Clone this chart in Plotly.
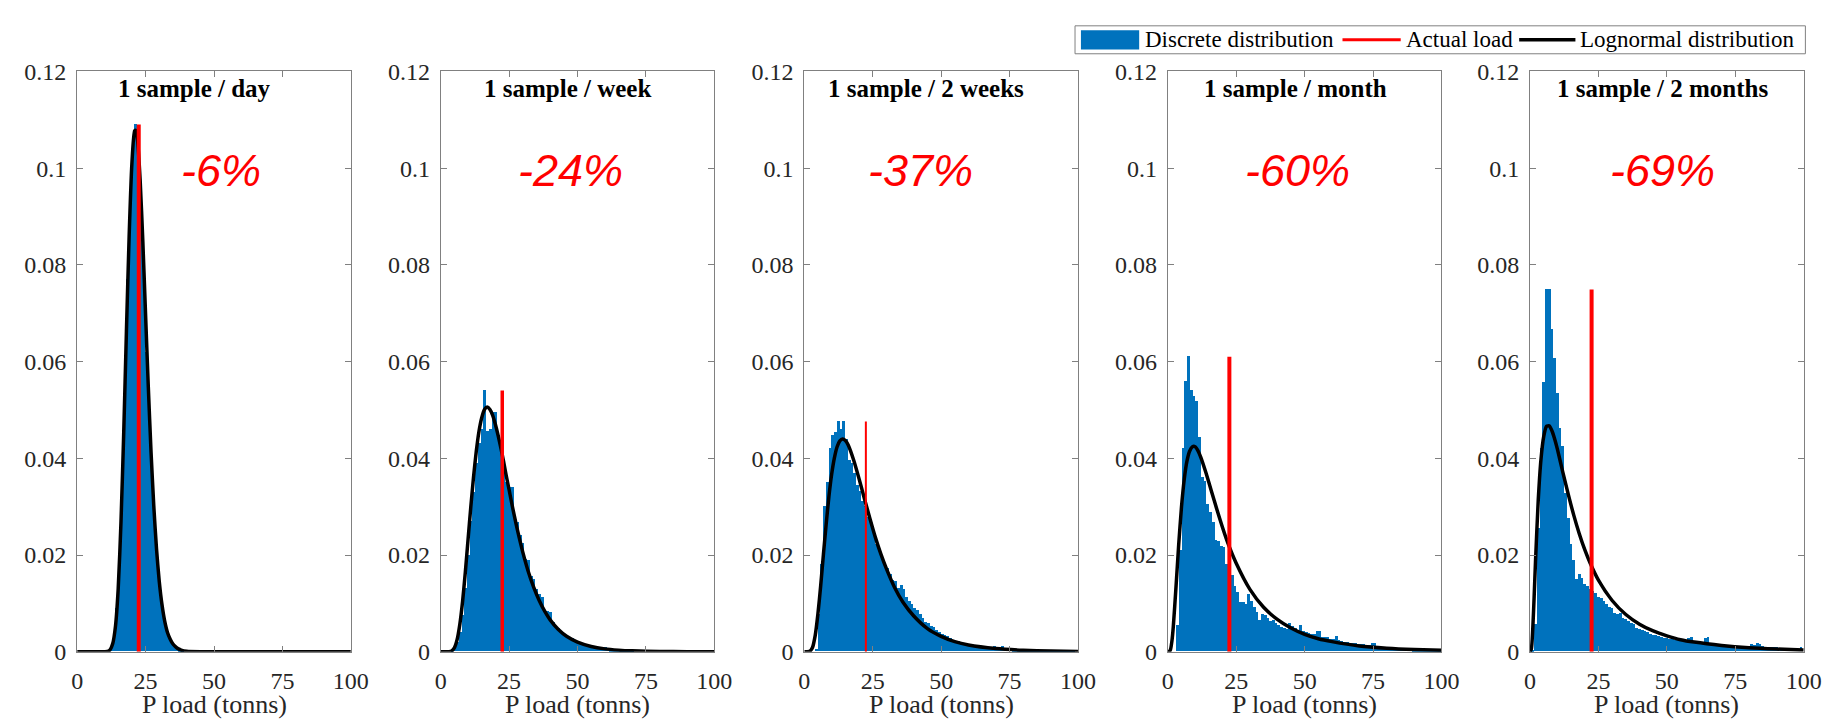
import plotly.graph_objects as go

W, H = 1845, 723

# ---------------- data ----------------
panel_titles = ["1 sample / day", "1 sample / week", "1 sample / 2 weeks",
                "1 sample / month", "1 sample / 2 months"]
change_labels = ["-6%", "-24%", "-37%", "-60%", "-69%"]
change_label_x = [52.5, 47.5, 42.5, 47.5, 48.5]
change_label_y = 0.0996
title_x = [43, 46.5, 44.5, 46.5, 48.5]
title_y = 0.1165
actual_load = 22.5

x_ticks = [0, 25, 50, 75, 100]
y_ticks = [0, 0.02, 0.04, 0.06, 0.08, 0.1, 0.12]
y_tick_labels = ["0", "0.02", "0.04", "0.06", "0.08", "0.1", "0.12"]

# histograms: left edge of first bin, bin width 1 tonne
hist_start = [12, 3.5, 4, 3, 0.5]
hist_day = [0.001, 0.003, 0.009, 0.019, 0.036, 0.056, 0.077, 0.094, 0.105, 0.109,
            0.103, 0.092, 0.078, 0.062, 0.048, 0.036, 0.0255, 0.018, 0.012, 0.008,
            0.005, 0.0033, 0.002, 0.0013, 0.0008, 0.0004, 0.0002]
hist_week = [0.0003, 0.001, 0.002, 0.004, 0.0075, 0.013, 0.020, 0.027, 0.033, 0.039,
             0.043, 0.046, 0.054, 0.0455, 0.046, 0.0495, 0.0495, 0.0447, 0.0430, 0.0390,
             0.0350, 0.0340, 0.0340, 0.0280, 0.0268, 0.0240, 0.0225, 0.0190, 0.0188, 0.0155,
             0.0150, 0.0128, 0.0118, 0.0112, 0.0086, 0.0083, 0.0082, 0.0060, 0.0052, 0.0049,
             0.0040, 0.0034, 0.0031, 0.0029, 0.0027, 0.0022, 0.0018, 0.0016, 0.0015, 0.0013,
             0.0011, 0.0010, 0.0009, 0.0008, 0.0007, 0.0007, 0.0009, 0.0005, 0.0004, 0.0003,
             0.0003, 0.0002, 0.0002, 0.0002, 0.0001, 0.0001, 0.0001]
hist_2weeks = [0.0005, 0.0077, 0.018, 0.030, 0.035, 0.042, 0.0447, 0.0453, 0.0476, 0.046,
               0.0476, 0.0440, 0.0395, 0.0390, 0.0369, 0.0345, 0.0332, 0.0310, 0.0300, 0.0278,
               0.0268, 0.0250, 0.0222, 0.0210, 0.0195, 0.0180, 0.0172, 0.0160, 0.0148, 0.0146,
               0.0132, 0.0137, 0.0128, 0.0112, 0.0105, 0.0098, 0.0090, 0.0085, 0.0078, 0.0068,
               0.0060, 0.0058, 0.0053, 0.0050, 0.0045, 0.0040, 0.0036, 0.0033, 0.0032, 0.0028,
               0.0024, 0.0022, 0.0021, 0.0019, 0.0017, 0.0015, 0.0014, 0.0013, 0.0012, 0.0011,
               0.0010, 0.0009, 0.0009, 0.0008, 0.0008, 0.0012, 0.0007, 0.0006, 0.0011, 0.0006,
               0.0005, 0.0005, 0.0004, 0.0004, 0.0004, 0.0003, 0.0003, 0.0003, 0.0002, 0.0002,
               0.0002, 0.0002, 0.0002, 0.0002, 0.0002, 0.0002, 0.0001, 0.0001, 0.0001, 0.0001,
               0.0001, 0.0001, 0.0001, 0.0001, 0.0001]
hist_month = [0.0055, 0.021, 0.042, 0.056, 0.061, 0.054, 0.0527, 0.0517, 0.0444, 0.036,
              0.0353, 0.0304, 0.0288, 0.0268, 0.0231, 0.0228, 0.0218, 0.0215, 0.0181, 0.0161,
              0.0158, 0.0135, 0.0122, 0.0102, 0.0102, 0.0098, 0.0118, 0.0105, 0.0092, 0.0082,
              0.0065, 0.0078, 0.0075, 0.0068, 0.0062, 0.0065, 0.0058, 0.0055, 0.0050, 0.0048,
              0.0046, 0.0058, 0.0052, 0.0048, 0.0045, 0.0055, 0.0042, 0.0040, 0.0038, 0.0036,
              0.0035, 0.0042, 0.0042, 0.0030, 0.0029, 0.0030, 0.0026, 0.0025, 0.0032, 0.0023,
              0.0021, 0.0020, 0.0019, 0.0018, 0.0017, 0.0017, 0.0016, 0.0016, 0.0015, 0.0014,
              0.0013, 0.0017, 0.0017, 0.0011, 0.0010, 0.0009, 0.0009, 0.0008, 0.0007, 0.0007,
              0.0006, 0.0006, 0.0005, 0.0005, 0.0005, 0.0005, 0.0004, 0.0004, 0.0004, 0.0004,
              0.0003, 0.0003, 0.0003, 0.0003, 0.0003, 0.0003, 0.0003]
hist_2months = [0.0003, 0.0057, 0.0256, 0.0420, 0.0557, 0.0749, 0.0749, 0.0666, 0.0607, 0.0534,
                0.0461, 0.0424, 0.0328, 0.0275, 0.0222, 0.0189, 0.0150, 0.0160, 0.0152, 0.0140,
                0.0135, 0.0128, 0.0125, 0.0120, 0.0112, 0.0110, 0.0105, 0.0098, 0.0092, 0.0090,
                0.0080, 0.0078, 0.0080, 0.0070, 0.0066, 0.0062, 0.0058, 0.0056, 0.0048, 0.0046,
                0.0044, 0.0042, 0.0040, 0.0036, 0.0034, 0.0033, 0.0032, 0.0030, 0.0028, 0.0027,
                0.0026, 0.0025, 0.0024, 0.0024, 0.0023, 0.0022, 0.0022, 0.0028, 0.0029, 0.0021,
                0.0020, 0.0019, 0.0018, 0.0028, 0.0029, 0.0017, 0.0016, 0.0016, 0.0015, 0.0015,
                0.0014, 0.0014, 0.0013, 0.0013, 0.0012, 0.0012, 0.0012, 0.0011, 0.0011, 0.0012,
                0.0016, 0.0013, 0.0017, 0.0016, 0.0012, 0.0010, 0.0009, 0.0009, 0.0008, 0.0008,
                0.0007, 0.0007, 0.0007, 0.0006, 0.0006, 0.0006, 0.0005, 0.0005, 0.0008]
hists = [hist_day, hist_week, hist_2weeks, hist_month, hist_2months]

# fitted lognormal curves
curve_day_x = [0, 10, 11, 12, 13, 14, 15, 16, 17, 18, 19, 20, 21, 21.5, 22, 23, 24, 25, 26,
               27, 28, 29, 30, 31, 32, 33, 34, 35, 36, 37, 38, 40, 45, 100]
curve_day_y = [0, 0, 0.00005, 0.0004, 0.0017, 0.0053, 0.0131, 0.0267, 0.0451, 0.0663,
               0.0861, 0.1010, 0.1077, 0.1078, 0.1061, 0.0977, 0.0847, 0.0696, 0.0547, 0.0412,
               0.0301, 0.0212, 0.0145, 0.0097, 0.0063, 0.0040, 0.0026, 0.0016, 0.0010, 0.0006,
               0.00035, 0.0001, 0, 0]
curve_week_x = [0, 3, 4, 5, 6, 7, 8, 9, 10, 11, 12, 13, 14, 15, 16, 17, 18, 19, 20, 21, 22,
                23, 24, 25, 26, 27, 28, 30, 32, 34, 36, 38, 40, 43, 46, 50, 55, 60, 65, 70,
                80, 90, 100]
curve_week_y = [0, 0.00001, 0.00015, 0.0008, 0.0025, 0.0057, 0.0104, 0.0164, 0.0232, 0.0299,
                0.0361, 0.0414, 0.0456, 0.0484, 0.0501, 0.0506, 0.0501, 0.0489, 0.0470, 0.0447,
                0.0421, 0.0393, 0.0363, 0.0335, 0.0306, 0.0279, 0.0253, 0.0206, 0.0166, 0.0133,
                0.0106, 0.0084, 0.0066, 0.0046, 0.0032, 0.0020, 0.0011, 0.0006, 0.00034, 0.00019,
                0.00006, 0.00002, 0]
curve_2weeks_x = [0, 1, 2, 3, 4, 5, 6, 7, 8, 9, 10, 11, 12, 13, 14, 15, 16, 18, 20, 22, 24,
                  26, 28, 30, 33, 36, 40, 45, 50, 55, 60, 70, 80, 90, 100]
curve_2weeks_y = [0, 0, 0.0001, 0.0009, 0.0034, 0.0079, 0.0137, 0.0202, 0.0264, 0.0321,
                  0.0367, 0.0401, 0.0424, 0.0436, 0.0440, 0.0437, 0.0428, 0.0397, 0.0358, 0.0316,
                  0.0275, 0.0236, 0.0202, 0.0172, 0.0133, 0.0103, 0.0074, 0.0048, 0.0032, 0.0021,
                  0.0014, 0.00066, 0.00032, 0.00016, 0.00008]
curve_month_x = [0, 0.5, 1, 1.5, 2, 3, 4, 5, 6, 7, 8, 9, 10, 11, 12, 14, 16, 18, 20, 22, 25,
                 30, 35, 40, 45, 50, 55, 60, 70, 80, 90, 100]
curve_month_y = [0, 0.00002, 0.0005, 0.0022, 0.0051, 0.0134, 0.0223, 0.0299, 0.0356, 0.0394,
                 0.0415, 0.0424, 0.0424, 0.0416, 0.0403, 0.0369, 0.0331, 0.0293, 0.0257, 0.0224,
                 0.0183, 0.0129, 0.0092, 0.0067, 0.0049, 0.0036, 0.0027, 0.0021, 0.0012, 0.00074,
                 0.00047, 0.0003]
curve_2months_x = [0, 0.5, 1, 1.5, 2, 3, 4, 5, 6, 7, 8, 9, 10, 12, 14, 16, 18, 20, 22, 25,
                   30, 35, 40, 45, 50, 55, 60, 70, 80, 90, 100]
curve_2months_y = [0, 0.0006, 0.0047, 0.0113, 0.0186, 0.0313, 0.0398, 0.0445, 0.0466, 0.0467,
                   0.0457, 0.0440, 0.0419, 0.0371, 0.0325, 0.0282, 0.0244, 0.0211, 0.0183, 0.0148,
                   0.0106, 0.0077, 0.0057, 0.0043, 0.0033, 0.0025, 0.0020, 0.0013, 0.00083,
                   0.00056, 0.00039]
curves_x = [curve_day_x, curve_week_x, curve_2weeks_x, curve_month_x, curve_2months_x]
curves_y = [curve_day_y, curve_week_y, curve_2weeks_y, curve_month_y, curve_2months_y]

legend_labels = ["Discrete distribution", "Actual load", "Lognormal distribution"]
x_label = "P load (tonns)"

# ---------------- style ----------------
BLUE = "#0072BD"
RED = "#FF0000"
BLACK = "#000000"
AXIS = "#808080"
TXT = "#262626"
SERIF = "Liberation Serif, Times New Roman, serif"
SANS = "Liberation Sans, Arial, sans-serif"
red_widths = [4, 3.5, 2, 4, 4]

panel_left_px = [64, 432.3, 800.7, 1169, 1536]
panel_w_px = 277.3
plot_top_px, plot_bot_px = 52.3, 654.3


def px_x(p):
    return p / W


def px_y(p):
    return 1 - p / H


fig = go.Figure()
layout = dict(
    width=W, height=H, margin=dict(l=0, r=0, t=0, b=0),
    paper_bgcolor="white", plot_bgcolor="white", showlegend=False,
    bargap=0, font=dict(family=SERIF, size=24, color=TXT),
)
annotations = []
shapes = []

for i in range(5):
    xa = "x" if i == 0 else f"x{i+1}"
    ya = "y" if i == 0 else f"y{i+1}"
    h = hists[i]
    centers = [hist_start[i] + k + 0.5 for k in range(len(h))]
    fig.add_trace(go.Bar(x=centers, y=h, width=1, marker=dict(color=BLUE, line=dict(width=0)),
                         xaxis=xa, yaxis=ya, name=legend_labels[0]))
    fig.add_trace(go.Scatter(x=curves_x[i], y=curves_y[i], mode="lines",
                             line=dict(color=BLACK, width=3.5, shape="spline", smoothing=0.6),
                             xaxis=xa, yaxis=ya, name=legend_labels[2]))
    fig.add_trace(go.Scatter(x=[actual_load, actual_load], y=[0, max(h)], mode="lines",
                             line=dict(color=RED, width=red_widths[i]),
                             xaxis=xa, yaxis=ya, name=legend_labels[1]))

    x0 = px_x(panel_left_px[i])
    x1 = px_x(panel_left_px[i] + panel_w_px)
    axis_common = dict(showline=True, linecolor=AXIS, linewidth=1, mirror="ticks",
                       ticks="inside", ticklen=6, tickcolor=AXIS, showgrid=False,
                       zeroline=False, tickfont=dict(family=SERIF, size=24, color=TXT))
    layout["xaxis" if i == 0 else f"xaxis{i+1}"] = dict(
        domain=[x0, x1], range=[0, 100], tickvals=x_ticks, anchor=ya,
        ticklabelstandoff=7, **axis_common)
    layout["yaxis" if i == 0 else f"yaxis{i+1}"] = dict(
        domain=[px_y(plot_bot_px), px_y(plot_top_px)], range=[0, 0.12],
        tickvals=y_ticks, ticktext=y_tick_labels, anchor=xa,
        ticklabelstandoff=5, **axis_common)

    annotations.append(dict(x=title_x[i], y=title_y, xref=xa, yref=ya, showarrow=False,
                            xanchor="center", yanchor="middle",
                            text=f"<b>{panel_titles[i]}</b>",
                            font=dict(family=SERIF, size=25, color=BLACK)))
    annotations.append(dict(x=change_label_x[i], y=change_label_y, xref=xa, yref=ya,
                            showarrow=False, xanchor="center", yanchor="middle",
                            text=f"<i>{change_labels[i]}</i>",
                            font=dict(family=SANS, size=45, color=RED)))
    annotations.append(dict(x=(x0 + x1) / 2, y=px_y(709), xref="paper", yref="paper",
                            showarrow=False, text=x_label, xanchor="center", yanchor="middle",
                            font=dict(family=SERIF, size=26, color=TXT)))

# ---- legend box (drawn) ----
lg_top, lg_bot = 5, 34
lg_mid = (lg_top + lg_bot) / 2
shapes.append(dict(type="rect", xref="paper", yref="paper",
                   x0=px_x(1075), x1=px_x(1815), y0=px_y(lg_bot), y1=px_y(lg_top),
                   line=dict(color=AXIS, width=1), fillcolor="white", layer="above"))
shapes.append(dict(type="rect", xref="paper", yref="paper",
                   x0=px_x(1081), x1=px_x(1140), y0=px_y(lg_mid + 10), y1=px_y(lg_mid - 10),
                   line=dict(width=0), fillcolor=BLUE, layer="above"))
shapes.append(dict(type="line", xref="paper", yref="paper",
                   x0=px_x(1346), x1=px_x(1405), y0=px_y(lg_mid), y1=px_y(lg_mid),
                   line=dict(color=RED, width=3), layer="above"))
shapes.append(dict(type="line", xref="paper", yref="paper",
                   x0=px_x(1525), x1=px_x(1582), y0=px_y(lg_mid), y1=px_y(lg_mid),
                   line=dict(color=BLACK, width=3.5), layer="above"))
for lab, xp in zip(legend_labels, [1144, 1408, 1585]):
    annotations.append(dict(x=px_x(xp), y=px_y(lg_mid), xref="paper", yref="paper",
                            xanchor="left", yanchor="middle", showarrow=False, text=lab,
                            font=dict(family=SERIF, size=23, color=BLACK)))

layout["annotations"] = annotations
layout["shapes"] = shapes
fig.update_layout(**layout)
fig.write_html("out.html")
